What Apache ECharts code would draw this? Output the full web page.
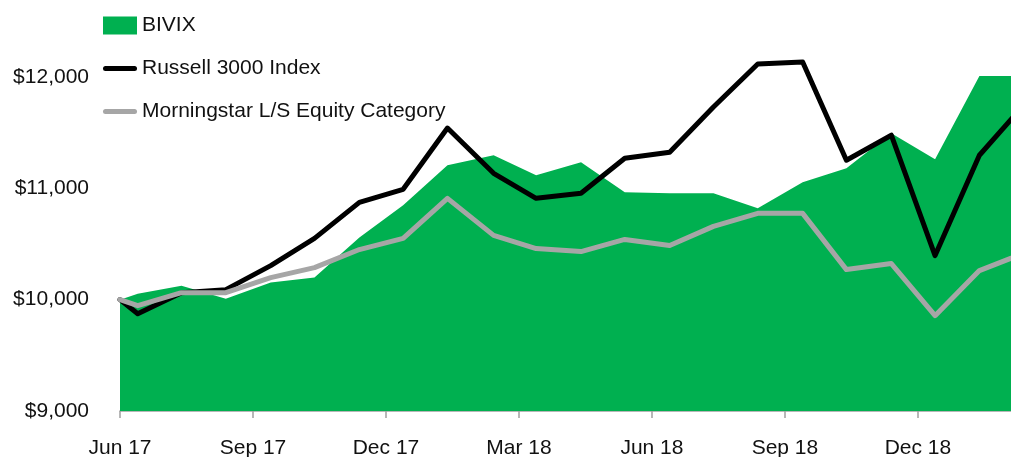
<!DOCTYPE html>
<html>
<head>
<meta charset="utf-8">
<script src="https://cdn.jsdelivr.net/npm/echarts@6/dist/echarts.min.js"></script>
<style>
html,body{margin:0;padding:0;background:#fff;}
#chart{width:1011px;height:457px;}
</style>
</head>
<body>
<div id="chart"></div>
<script>
// Observation dates (inception, then monthly)
const dates = ['2017-06-01','2017-06-13','2017-07-13','2017-08-13','2017-09-13','2017-10-13','2017-11-13','2017-12-13','2018-01-13','2018-02-13','2018-03-13','2018-04-13','2018-05-13','2018-06-13','2018-07-13','2018-08-13','2018-09-13','2018-10-13','2018-11-13','2018-12-13','2019-01-13','2019-02-13'];
const bivix = [10000,10054,10126,10009,10153,10198,10559,10847,11207,11297,11117,11234,10964,10955,10955,10820,11054,11180,11495,11261,12009,12009];
const russell = [10000,9874,10063,10090,10306,10550,10874,10991,11541,11135,10910,10955,11270,11324,11730,12117,12135,11252,11477,10396,11297,11766];
const morningstar = [10000,9946,10063,10063,10198,10288,10450,10550,10910,10577,10459,10432,10541,10486,10658,10775,10775,10270,10324,9856,10261,10423];
const tickLabels = ['Jun 17','Sep 17','Dec 17','Mar 18','Jun 18','Sep 18','Dec 18'];
const tickMonths = [0,3,6,9,12,15,18];
const seriesNames = ['BIVIX','Russell 3000 Index','Morningstar L/S Equity Category'];

// months elapsed since 2017-06-01
function monthOffset(s){
  const p = s.split('-').map(Number);
  const dim = new Date(p[0], p[1], 0).getDate();
  return (p[0]-2017)*12 + (p[1]-6) + (p[2]-1)/dim;
}
const xs = dates.map(monthOffset);
const pair = arr => arr.map((v,i)=>[xs[i], v]);

const lineIcon = 'path://M2.5,0H31.5A2.5,2.5,0,0,1,31.5,5H2.5A2.5,2.5,0,0,1,2.5,0Z';
const font = "'Liberation Sans', Arial, sans-serif";
const chart = echarts.init(document.getElementById('chart'));
chart.setOption({
  animation:false,
  backgroundColor:'#fff',
  textStyle:{fontFamily:font},
  grid:{left:120,right:0,top:21.3,bottom:46,containLabel:false,outerBoundsMode:'none'},
  legend:{
    orient:'vertical', left:103, top:15, itemGap:22, padding:0,
    itemWidth:34, itemHeight:18, symbolKeepAspect:true,
    textStyle:{fontSize:21,color:'#111',fontFamily:font},
    data:[
      {name:seriesNames[0], icon:'rect'},
      {name:seriesNames[1], icon:lineIcon},
      {name:seriesNames[2], icon:lineIcon}
    ]
  },
  xAxis:{
    type:'value', min:0, max:20.1,
    splitLine:{show:false},
    axisLine:{show:true,lineStyle:{color:'#a0a0a0',width:1.5}},
    axisTick:{show:true,length:7,customValues:tickMonths,lineStyle:{color:'#a0a0a0',width:1.5}},
    axisLabel:{customValues:tickMonths,fontSize:21,color:'#111',margin:27,fontFamily:font,
      formatter:v=>{const i=tickMonths.indexOf(Math.round(v));return i>=0?tickLabels[i]:'';}}
  },
  yAxis:{
    type:'value', min:9000, max:12500, interval:1000,
    splitLine:{show:false},
    axisLine:{show:false}, axisTick:{show:false},
    axisLabel:{fontSize:21,color:'#111',margin:31,showMaxLabel:false,fontFamily:font,
      formatter:v=>'$'+v.toLocaleString('en-US')}
  },
  series:[
    {name:seriesNames[0], type:'line', data:pair(bivix), symbol:'none', color:'#00B050',
     lineStyle:{width:0}, areaStyle:{color:'#00B050',opacity:1,origin:'start'}, z:1},
    {name:seriesNames[1], type:'line', data:pair(russell), symbol:'none', color:'#000',
     lineStyle:{width:5,color:'#000',cap:'round',join:'round'}, z:2},
    {name:seriesNames[2], type:'line', data:pair(morningstar), symbol:'none', color:'#a6a6a6',
     lineStyle:{width:5,color:'#a6a6a6',cap:'round',join:'round'}, z:3}
  ]
});
</script>
</body>
</html>
